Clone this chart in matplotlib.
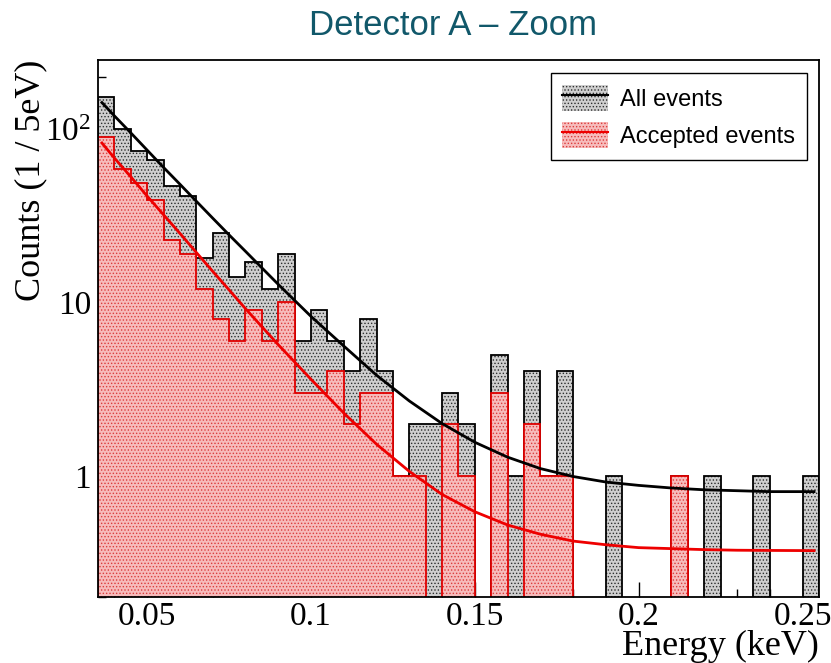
import numpy as np
import matplotlib
matplotlib.use('Agg')
import matplotlib.pyplot as plt
from matplotlib.patches import Patch
from matplotlib.lines import Line2D
from matplotlib.ticker import FixedLocator, FixedFormatter, MultipleLocator, LogLocator, NullFormatter

# histogram of the energy spectrum, 5 eV bins from 0.035 keV to 0.255 keV
bin_start = 0.035
bin_stop = 0.255
n_bins = 44

# counts per bin
all_counts = [153, 100, 75, 66, 47, 41, 18, 25, 14, 17,
              12, 19, 6, 9, 6, 4, 8, 4, 1, 2,
              2, 3, 2, 0, 5, 1, 4, 1, 4, 0,
              0, 1, 0, 0, 0, 1, 0, 1, 0, 0,
              1, 0, 0, 1]
accepted_counts = [90, 59, 49, 39, 23, 19, 12, 8, 6, 9,
                   6, 10, 3, 3, 4, 2, 3, 3, 1, 1,
                   0, 2, 1, 0, 3, 0, 2, 1, 1, 0,
                   0, 0, 0, 0, 0, 1, 0, 0, 0, 0,
                   0, 0, 0, 0]

# fitted curves
fit_energy = [0.0362, 0.04, 0.045, 0.05, 0.055, 0.06, 0.065, 0.07, 0.075, 0.08,
              0.09, 0.10, 0.11, 0.12, 0.13, 0.14, 0.15, 0.16, 0.17, 0.18,
              0.19, 0.20, 0.21, 0.22, 0.23, 0.24, 0.2535]
all_fit = [142, 119, 95, 75.5, 60, 48, 38.3, 30.6, 24.5, 19.7,
           12.7, 8.3, 5.6, 3.8, 2.7, 2.0, 1.56, 1.28, 1.10, 0.99,
           0.92, 0.88, 0.85, 0.83, 0.82, 0.81, 0.81]
accepted_fit = [83, 68, 53, 41, 32, 25, 19.4, 15.1, 11.8, 9.2,
                5.7, 3.6, 2.3, 1.52, 1.06, 0.78, 0.62, 0.52, 0.46, 0.42,
                0.40, 0.385, 0.38, 0.375, 0.372, 0.371, 0.37]

legend_labels = ['All events', 'Accepted events']
x_ticks = [0.05, 0.1, 0.15, 0.2, 0.25]
x_tick_labels = ['0.05', '0.1', '0.15', '0.2', '0.25']
y_ticks = [1, 10, 100]
y_tick_labels = ['1', '10', r'$\mathregular{10^{2}}$']

serif = ['Liberation Serif', 'DejaVu Serif']
sans = ['Liberation Sans', 'DejaVu Sans']

# fill / dot / line colours of the two histograms
all_face, all_dots, all_line = '#cfcfcf', '#2e2e2e', 'black'
acc_face, acc_dots, acc_line = '#f7bcbc', '#dc3c3c', '#e00000'

floor = 1e-3  # stands in for zero on the log axis


# draws one histogram: stippled fill plus step outline
def draw_hist(ax, edges, counts, face, dots, line, z):
    counts = np.array(counts, dtype=float)
    shown = np.where(counts > 0, counts, floor)
    ax.bar(edges[:-1], shown - floor, width=np.diff(edges), bottom=floor, align='edge',
           facecolor=face, edgecolor=dots, hatch='.....', linewidth=0, zorder=z)
    ax.stairs(shown, edges, baseline=floor, color=line, linewidth=1.3, zorder=z + 0.5)


def main():
    plt.rcParams['hatch.linewidth'] = 0.6
    fig = plt.figure(figsize=(8.31, 6.63), dpi=100)
    ax = fig.add_axes([0.1179, 0.0996, 0.8676, 0.8100])

    edges = np.linspace(bin_start, bin_stop, n_bins + 1)

    # all events underneath, accepted events on top
    draw_hist(ax, edges, all_counts, all_face, all_dots, all_line, 2)
    draw_hist(ax, edges, accepted_counts, acc_face, acc_dots, acc_line, 3)

    ax.plot(fit_energy, all_fit, color='black', linewidth=2.0, zorder=5)
    ax.plot(fit_energy, accepted_fit, color='#ee0000', linewidth=2.0, zorder=5)

    ax.set_yscale('log')
    ax.set_xlim(bin_start, bin_stop)
    ax.set_ylim(0.2, 250)

    # axis ticks, ROOT style (inside, only bottom and left)
    ax.xaxis.set_major_locator(FixedLocator(x_ticks))
    ax.xaxis.set_major_formatter(FixedFormatter(x_tick_labels))
    ax.xaxis.set_minor_locator(MultipleLocator(0.01))
    ax.yaxis.set_major_locator(FixedLocator(y_ticks))
    ax.yaxis.set_major_formatter(FixedFormatter(y_tick_labels))
    ax.yaxis.set_minor_locator(LogLocator(base=10, subs=np.arange(2, 10)))
    ax.yaxis.set_minor_formatter(NullFormatter())

    ax.tick_params(which='both', direction='in', top=False, right=False, width=1.0, colors='black')
    ax.tick_params(axis='x', which='major', length=11, pad=3)
    ax.tick_params(axis='x', which='minor', length=5.5)
    ax.tick_params(axis='y', which='major', length=14, pad=5)
    ax.tick_params(axis='y', which='minor', length=6)
    for lab in ax.get_xticklabels() + ax.get_yticklabels():
        lab.set_family(serif)
        lab.set_fontsize(24)

    for sp in ax.spines.values():
        sp.set_linewidth(1.3)
        sp.set_zorder(10)

    ax.set_xlabel('Energy (keV)', family=serif, fontsize=26, ha='right')
    ax.xaxis.set_label_coords(1.0, -0.061)
    ax.set_ylabel('Counts (1 / 5eV)', family=serif, fontsize=26, ha='right')
    ax.yaxis.set_label_coords(-0.07, 1.0)

    fig.text(0.545, 0.962, 'Detector A \u2013 Zoom', family=sans, fontsize=25,
             color='#11586a', ha='center', va='center')

    # legend: stippled patch with the curve drawn across it
    handles = [
        (Patch(facecolor=all_face, edgecolor=all_dots, hatch='.....', linewidth=0),
         Line2D([], [], color='black', linewidth=1.5)),
        (Patch(facecolor=acc_face, edgecolor=acc_dots, hatch='.....', linewidth=0),
         Line2D([], [], color='#ee0000', linewidth=1.5)),
    ]
    leg = ax.legend(handles, legend_labels, loc='upper right',
                    bbox_to_anchor=(807 / 831, 1 - 73 / 663), bbox_transform=fig.transFigure,
                    prop={'family': sans, 'size': 17}, frameon=True, fancybox=False,
                    edgecolor='black', framealpha=1, borderaxespad=0, borderpad=0.5,
                    handlelength=1.95, handleheight=1.35, handletextpad=0.5, labelspacing=0.45)
    leg.get_frame().set_linewidth(1.0)
    leg.set_zorder(20)

    fig.savefig('out.png', dpi=100)


if __name__ == "__main__":
    main()
